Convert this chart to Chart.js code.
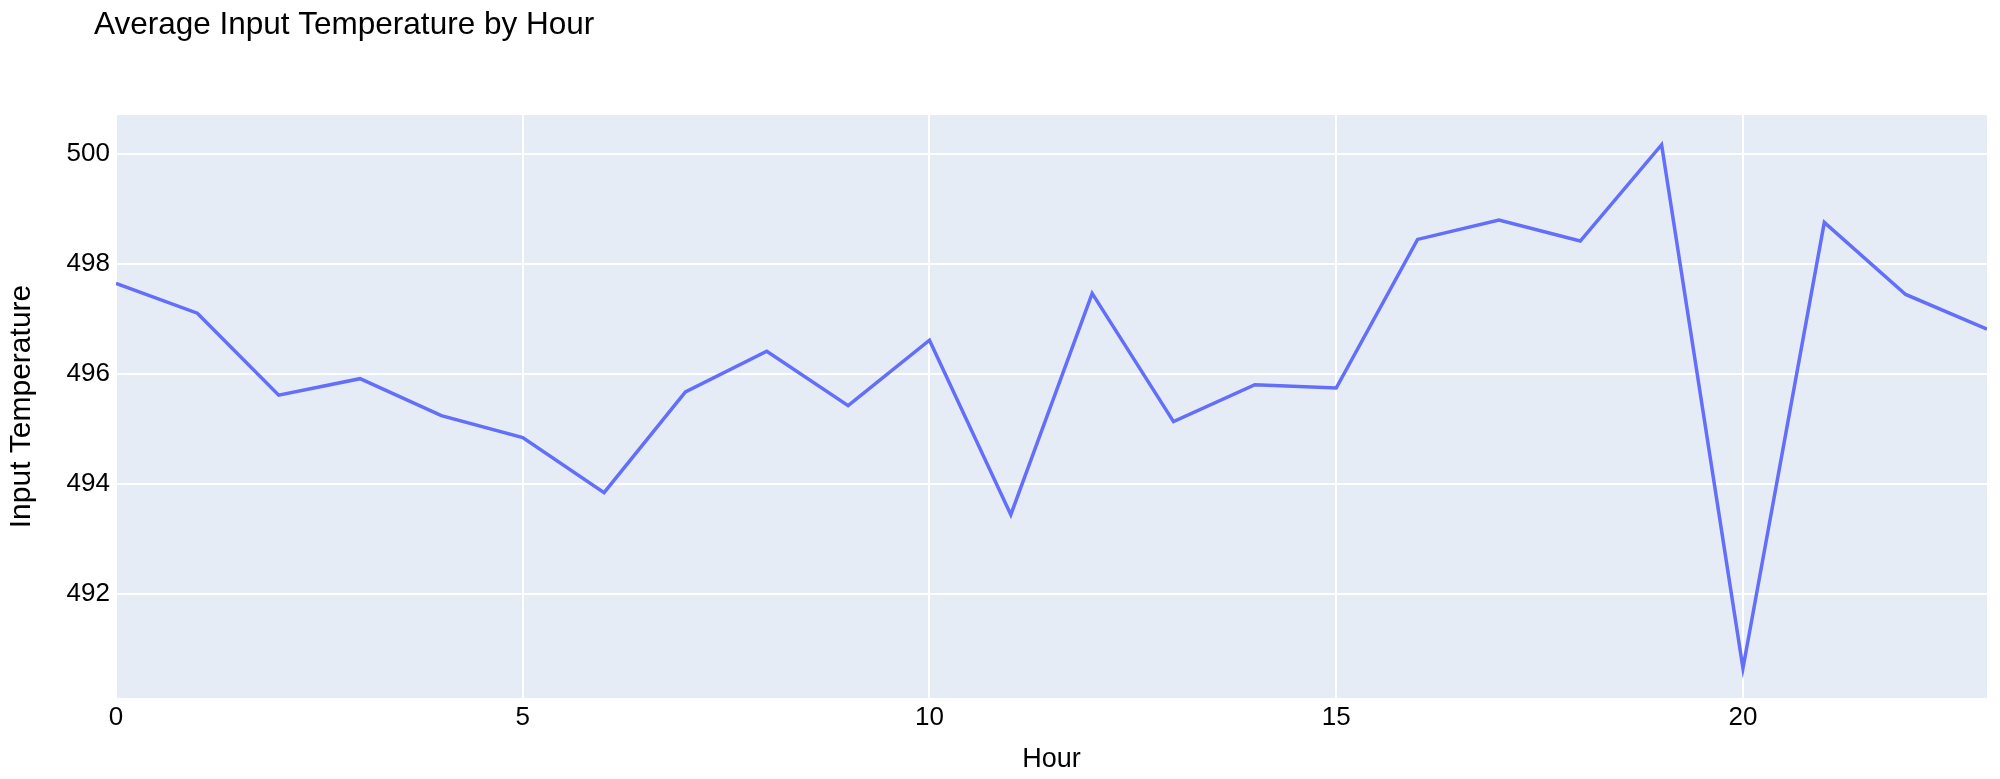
<!DOCTYPE html>
<html>
<head>
<meta charset="utf-8">
<title>Average Input Temperature by Hour</title>
<script src="https://cdn.jsdelivr.net/npm/chart.js@4/dist/chart.umd.min.js"></script>
<style>
  html, body { margin: 0; padding: 0; background: #ffffff; }
  #wrap { width: 2000px; height: 779px; position: relative; }
</style>
</head>
<body>
<div id="wrap"><canvas id="temp-chart" width="2000" height="779"></canvas></div>
<script>
// Chart data
const hours = [0, 1, 2, 3, 4, 5, 6, 7, 8, 9, 10, 11, 12, 13, 14, 15, 16, 17, 18, 19, 20, 21, 22, 23];
const inputTemps = [497.64, 497.10, 495.61, 495.91, 495.24, 494.84, 493.84, 495.67, 496.41, 495.42,
  496.61, 493.44, 497.46, 495.13, 495.80, 495.74, 498.44, 498.79, 498.41, 500.16,
  490.65, 498.75, 497.44, 496.81];
const xTicks = [0, 5, 10, 15, 20];
const yTicks = [492, 494, 496, 498, 500];

(function() {
  'use strict';

  const FONT = "'Liberation Sans', Arial, sans-serif";
  const colors = {
    line: '#636efa',
    plotBg: '#e5ecf6',
    grid: '#ffffff',
    text: '#000000'
  };

  // Plot background + title drawn by hand (plotly-like layout)
  const plotStyle = {
    id: 'plotStyle',
    beforeDraw(chart) {
      const { ctx, chartArea: a } = chart;
      ctx.save();
      ctx.fillStyle = colors.plotBg;
      ctx.fillRect(a.left, a.top, a.right - a.left, a.bottom - a.top);
      ctx.restore();
    },
    afterDraw(chart) {
      const ctx = chart.ctx;
      ctx.save();
      ctx.font = '31.5px ' + FONT;
      ctx.fillStyle = colors.text;
      ctx.textAlign = 'left';
      ctx.textBaseline = 'alphabetic';
      ctx.fillText('Average Input Temperature by Hour', 94, 34);
      ctx.restore();
    }
  };

  const ctx = document.getElementById('temp-chart').getContext('2d');

  new Chart(ctx, {
    type: 'line',
    data: {
      datasets: [{
        label: 'Input Temperature',
        data: hours.map((h, i) => ({ x: h, y: inputTemps[i] })),
        borderColor: colors.line,
        borderWidth: 3.5,
        pointRadius: 0,
        tension: 0,
        fill: false
      }]
    },
    options: {
      responsive: false,
      animation: false,
      layout: { padding: { top: 115, right: 13, bottom: 0, left: 0 } },
      plugins: {
        legend: { display: false },
        tooltip: { enabled: false },
        title: { display: false }
      },
      scales: {
        x: {
          type: 'linear',
          min: 0,
          max: 23,
          afterBuildTicks: s => { s.ticks = xTicks.map(v => ({ value: v })); },
          afterFit: s => { s.height = 81; },
          border: { display: false },
          grid: { color: colors.grid, lineWidth: 2, drawTicks: false },
          ticks: { autoSkip: false, maxRotation: 0, padding: 4, color: colors.text, font: { family: FONT, size: 26 } },
          title: { display: true, text: 'Hour', color: colors.text, font: { family: FONT, size: 27 }, padding: { top: 0, bottom: 3 } }
        },
        y: {
          min: 490.11,
          max: 500.70,
          afterBuildTicks: s => { s.ticks = yTicks.map(v => ({ value: v })); },
          afterFit: s => { s.width = 116; },
          border: { display: false },
          grid: { color: colors.grid, lineWidth: 2, drawTicks: false },
          ticks: { padding: 6, color: colors.text, font: { family: FONT, size: 26 } },
          title: { display: true, text: 'Input Temperature', color: colors.text, font: { family: FONT, size: 30 }, padding: { top: 4, bottom: 26 } }
        }
      }
    },
    plugins: [plotStyle]
  });
})();
</script>
</body>
</html>
